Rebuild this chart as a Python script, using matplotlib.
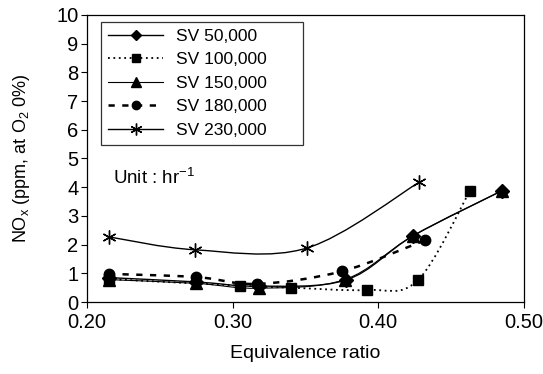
import numpy as np
import matplotlib
matplotlib.use('Agg')
import matplotlib.pyplot as plt
from matplotlib.path import Path
from matplotlib.patches import PathPatch
from matplotlib.lines import Line2D

plt.rcParams['font.family'] = ['Liberation Sans', 'DejaVu Sans']
plt.rcParams['mathtext.fontset'] = 'custom'
plt.rcParams['mathtext.rm'] = 'Liberation Sans'
plt.rcParams['mathtext.it'] = 'Liberation Sans'

# 数据
sv_labels = ['SV 50,000', 'SV 100,000', 'SV 150,000', 'SV 180,000', 'SV 230,000']

x_50k = [0.215, 0.275, 0.318, 0.378, 0.424, 0.485]
y_50k = [0.85, 0.70, 0.55, 0.77, 2.31, 3.88]

x_100k = [0.215, 0.305, 0.340, 0.392, 0.427, 0.463]
y_100k = [0.80, 0.57, 0.50, 0.42, 0.75, 3.88]

x_150k = [0.215, 0.275, 0.318, 0.377, 0.424, 0.485]
y_150k = [0.78, 0.65, 0.48, 0.78, 2.31, 3.88]

x_180k = [0.215, 0.275, 0.317, 0.375, 0.432]
y_180k = [0.98, 0.87, 0.63, 1.07, 2.15]

x_230k = [0.215, 0.274, 0.351, 0.428]
y_230k = [2.27, 1.82, 1.88, 4.17]

series = [(x_50k, y_50k), (x_100k, y_100k), (x_150k, y_150k), (x_180k, y_180k), (x_230k, y_230k)]

styles = [
    dict(ls='-', lw=1.0, marker='D', ms=7),
    dict(ls=(0, (1, 2)), lw=1.3, marker='s', ms=7.5),
    dict(ls='-', lw=0.8, marker='^', ms=8),
    dict(ls=(0, (2.5, 3)), lw=1.8, marker='o', ms=7.5),
    dict(ls='-', lw=1.0, marker=(6, 2, 0), ms=10),
]


# Excel 风格的平滑曲线 (Bezier)
def smooth_path(xs, ys):
    pts = np.column_stack([xs, ys])
    n = len(pts)
    verts = [pts[0]]
    codes = [Path.MOVETO]
    for i in range(n - 1):
        p0 = pts[max(i - 1, 0)]
        p1 = pts[i]
        p2 = pts[i + 1]
        p3 = pts[min(i + 2, n - 1)]
        c1 = p1 + (p2 - p0) / 6.0
        c2 = p2 - (p3 - p1) / 6.0
        verts += [c1, c2, p2]
        codes += [Path.CURVE4] * 3
    return Path(verts, codes)


fig = plt.figure(figsize=(5.43, 3.74), dpi=100)
ax = fig.add_axes([0.160, 0.1925, 0.805, 0.7675])

handles = []
for (xs, ys), st, lab in zip(series, styles, sv_labels):
    patch = PathPatch(smooth_path(xs, ys), fill=False, edgecolor='black',
                      lw=st['lw'], linestyle=st['ls'], transform=ax.transData)
    ax.add_patch(patch)
    ax.plot(xs, ys, linestyle='none', marker=st['marker'], ms=st['ms'],
            color='black', mec='black', mew=1.0)
    handles.append(Line2D([], [], color='black', linestyle=st['ls'], lw=st['lw'],
                          marker=st['marker'], ms=st['ms'] - 1.5, mew=1.0, label=lab))

ax.set_xlim(0.20, 0.50)
ax.set_ylim(0, 10)
ax.set_xticks([0.20, 0.30, 0.40, 0.50])
ax.set_xticklabels(['0.20', '0.30', '0.40', '0.50'])
ax.set_yticks(range(0, 11))
ax.tick_params(direction='out', length=4, width=0.8, labelsize=14.5, pad=2)
ax.tick_params(axis='x', pad=4)
for sp in ax.spines.values():
    sp.set_linewidth(0.9)

ax.set_xlabel('Equivalence ratio', fontsize=14)
ax.xaxis.set_label_coords(0.5, -0.15)
ax.set_ylabel('NO$_\\mathrm{x}$ (ppm, at O$_2$ 0%)', fontsize=13)
ax.yaxis.set_label_coords(-0.125, 0.5)

ax.text(0.06, 0.432, 'Unit : hr$^{-1}$', transform=ax.transAxes, fontsize=13.5, va='center')

leg = ax.legend(handles=handles, loc='upper left',
                bbox_to_anchor=(0.032, 0.551, 0.462, 0.425), mode='expand',
                fontsize=12.5, frameon=True, fancybox=False, edgecolor='black',
                handlelength=3.2, handletextpad=0.7, labelspacing=0.48,
                borderpad=0.4, borderaxespad=0)
leg.get_frame().set_linewidth(0.9)

plt.savefig('out.png', dpi=100)
